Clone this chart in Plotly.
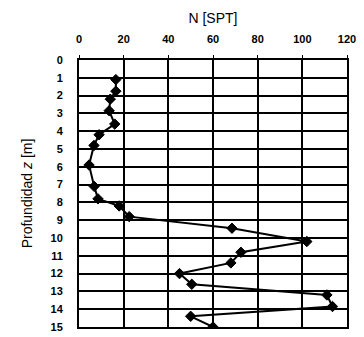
import plotly.graph_objects as go

depth = [1.1, 1.75, 2.2, 2.85, 3.6, 4.2, 4.8, 5.9, 7.1, 7.8, 8.2, 8.8, 9.45, 10.2, 10.8, 11.4, 12.0, 12.6, 13.2, 13.85, 14.4, 15.0]
n_spt = [16.5, 16.5, 14, 13.5, 16, 9, 6.7, 4.5, 6.8, 8.5, 18, 22.5, 68.5, 102, 72.5, 68, 45, 50.5, 111, 113.5, 50, 60]
x_ticks = [0, 20, 40, 60, 80, 100, 120]
y_ticks = list(range(0, 16))

fig = go.Figure()
fig.add_trace(go.Scatter(
    x=n_spt, y=depth, mode="lines+markers",
    line=dict(color="black", width=2),
    marker=dict(symbol="diamond", size=8, color="black", line=dict(color="black", width=1)),
    showlegend=False,
))

fig.update_layout(
    width=364, height=337,
    margin=dict(l=79, r=17, t=60, b=4),
    paper_bgcolor="white", plot_bgcolor="white",
    font=dict(family="Liberation Sans, Arial, sans-serif", color="black", size=11),
    xaxis=dict(
        side="top", range=[0, 120], tickvals=x_ticks, ticktext=[str(v) for v in x_ticks],
        showgrid=True, gridcolor="black", gridwidth=1.5,
        showline=True, linecolor="black", linewidth=2, mirror=True,
        ticks="outside", ticklen=3, tickcolor="black", ticklabelstandoff=8,
        zeroline=False,
        title=dict(text="N [SPT]", font=dict(size=14), standoff=6),
        tickfont=dict(size=11, weight="bold"),
    ),
    yaxis=dict(
        range=[15, 0], tickvals=y_ticks, ticktext=[str(v) for v in y_ticks],
        showgrid=True, gridcolor="black", gridwidth=1.5,
        showline=True, linecolor="black", linewidth=2, mirror=True,
        ticks="", zeroline=False, ticklabelstandoff=12,
        title=dict(text="Profundidad <i>z</i> [m]", font=dict(size=14), standoff=15),
        tickfont=dict(size=11, weight="bold"),
    ),
)

fig.write_html("out.html")
